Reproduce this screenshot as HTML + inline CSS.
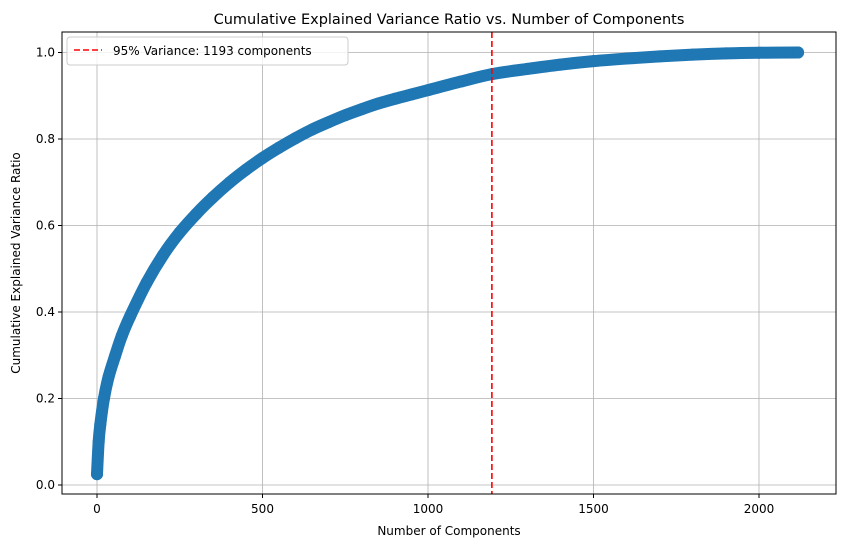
<!DOCTYPE html>
<html><head><meta charset="utf-8"><style>
body{margin:0;background:#fff;}
svg text{font-family:"DejaVu Sans","Liberation Sans",sans-serif;}
</style></head><body>
<svg id="chart" width="846" height="547" xmlns="http://www.w3.org/2000/svg">
<rect width="846" height="547" fill="#fff"/>
<text x="449" y="24" font-size="14.5" text-anchor="middle" fill="#000">Cumulative Explained Variance Ratio vs. Number of Components</text>
<g id="grid"></g>
<g id="series"></g>
<line id="thr" y1="32" y2="494" stroke="#ff0000" stroke-width="1.6" stroke-dasharray="6,3"/>
<rect x="62" y="32" width="774" height="462" fill="none" stroke="#000" stroke-width="1"/>
<g id="ticks"></g>
<text x="449" y="535" font-size="12" text-anchor="middle">Number of Components</text>
<text transform="translate(20,263) rotate(-90)" font-size="12" text-anchor="middle">Cumulative Explained Variance Ratio</text>
<g>
<rect x="67" y="37" width="281" height="28" rx="3" fill="#fff" fill-opacity="0.8" stroke="#ccc"/>
<line x1="74" y1="50" x2="102" y2="50" stroke="#ff0000" stroke-width="1.6" stroke-dasharray="6,3"/>
<text x="113" y="55" font-size="12">95% Variance: 1193 components</text>
</g>
</svg>
<script>
const components=[0,5,10,21,35,54,75,100,150,200,250,300,350,400,450,500,550,600,650,700,750,800,850,900,950,1000,1100,1193,1300,1400,1500,1600,1700,1800,1900,2000,2118];
const cumVariance=[0.025,0.1,0.14,0.2,0.25,0.297,0.345,0.39,0.468,0.532,0.584,0.627,0.665,0.699,0.729,0.756,0.780,0.802,0.822,0.839,0.855,0.869,0.882,0.893,0.903,0.913,0.933,0.95,0.962,0.972,0.98,0.986,0.991,0.995,0.998,0.9995,1.0];
const xTicks=[0,500,1000,1500,2000];
const yTicks=[0.0,0.2,0.4,0.6,0.8,1.0];
const threshold=1193;
const NS="http://www.w3.org/2000/svg";
const xs=v=>97+v*(428-97)/1000;
const ys=v=>485-v*432.5;
const grid=document.getElementById('grid'),ticks=document.getElementById('ticks'),ser=document.getElementById('series');
function mk(t,a,p){const e=document.createElementNS(NS,t);for(const k in a)e.setAttribute(k,a[k]);p.appendChild(e);return e;}
xTicks.forEach(v=>{const x=xs(v);
const g=mk('line',{x1:x,x2:x,y1:32,y2:494,stroke:'#b0b0b0','stroke-width':0.8},grid);


mk('line',{x1:x,x2:x,y1:494,y2:498,stroke:'#000'},ticks);
const t=mk('text',{x:x,y:513,'font-size':12,'text-anchor':'middle'},ticks);t.textContent=v;

});
yTicks.forEach(v=>{const y=ys(v);
const g=mk('line',{x1:62,x2:836,y1:y,y2:y,stroke:'#b0b0b0','stroke-width':0.8},grid);


mk('line',{x1:58,x2:62,y1:y,y2:y,stroke:'#000'},ticks);
const t=mk('text',{x:55,y:y+4,'font-size':12,'text-anchor':'end'},ticks);t.textContent=v.toFixed(1);

});
const P=components.map((c,i)=>[xs(c),ys(cumVariance[i])]);
let d='M'+P[0][0]+','+P[0][1];
for(let i=0;i<P.length-1;i++){const p0=P[Math.max(0,i-1)],p1=P[i],p2=P[i+1],p3=P[Math.min(P.length-1,i+2)];
d+=' C'+(p1[0]+(p2[0]-p0[0])/6)+','+(p1[1]+(p2[1]-p0[1])/6)+' '+(p2[0]-(p3[0]-p1[0])/6)+','+(p2[1]-(p3[1]-p1[1])/6)+' '+p2[0]+','+p2[1];}
const pl=mk('path',{d:d,fill:'none',stroke:'#1f77b4','stroke-width':12,'stroke-linecap':'round','stroke-linejoin':'round'},ser);


components.forEach((c,i)=>{const e=mk('circle',{cx:xs(c),cy:ys(cumVariance[i]),r:6,fill:'#1f77b4'},ser);

});
const th=document.getElementById('thr');th.setAttribute('x1',xs(threshold));th.setAttribute('x2',xs(threshold));
</script>
</body></html>
